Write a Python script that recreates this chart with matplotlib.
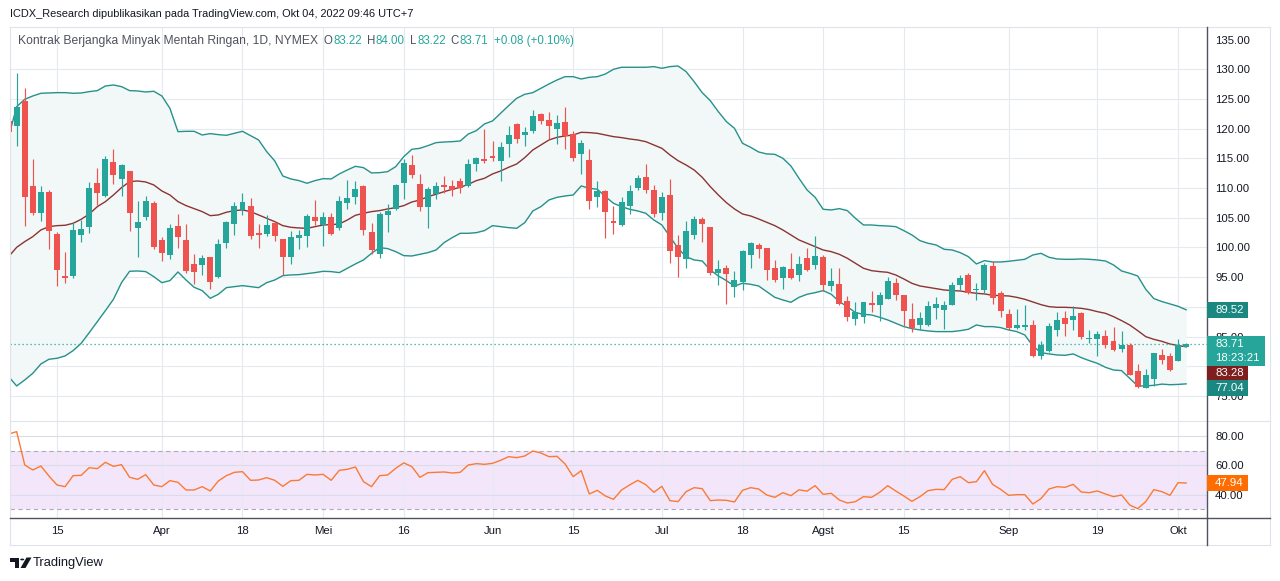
import matplotlib
matplotlib.use('Agg')
import matplotlib.pyplot as plt
import numpy as np
import pandas as pd
from matplotlib.patches import Rectangle, Polygon, Circle
from matplotlib.lines import Line2D

plt.rcParams['font.family'] = ['Liberation Sans', 'DejaVu Sans']

# ----------------------- data -----------------------
first_day = '2022-03-07'
last_day = '2022-10-04'
holidays = ['2022-04-15', '2022-05-30', '2022-06-20', '2022-07-04', '2022-09-05']

opens = [121.3, 120.5, 124.67, 110.36, 105.87, 109.35, 102.33, 95.21, 95.21, 102.16,
         103.51, 110.86, 108.67, 114.4, 111.59, 112.88, 103.34, 105.2, 107.5, 101.27,
         98.8, 103.62, 101.27, 97.23, 97.12, 98.4, 95.04, 100.82, 104.02, 106.32,
         106.99, 102.44, 102.33, 104.13, 101.44, 98.46, 101.66, 101.99, 105.14, 103.79,
         105.14, 103.34, 107.55, 108.56, 110.41, 102.61, 98.91, 105.48, 106.49, 110.86,
         113.89, 110.7, 106.82, 109.01, 110.53, 110.36, 111.2, 110.36, 114.12, 114.9,
         115.41, 114.62, 117.48, 120.8, 118.94, 119.62, 122.48, 121.47, 119.95, 121.13,
         119.11, 115.75, 114.74, 108.51, 109.52, 104.47, 103.79, 106.99, 110.02, 111.87,
         109.69, 105.81, 108.84, 100.43, 98.07, 102.16, 104.8, 103.46, 95.71, 96.55,
         93.35, 94.2, 98.74, 100.43, 99.92, 96.55, 94.87, 96.38, 95.37, 98.24,
         97.06, 98.4, 93.52, 93.86, 91.0, 87.97, 88.3, 90.66, 90.32, 91.33,
         94.03, 92.0, 87.97, 86.96, 86.96, 89.82, 89.48, 90.32, 93.69, 95.37,
         92.85, 92.85, 96.89, 92.35, 88.81, 86.45, 86.62, 86.96, 81.74, 82.58,
         86.12, 88.14, 87.8, 88.98, 84.6, 84.6, 85.1, 84.3, 82.92, 83.59,
         79.2, 76.4, 77.92, 81.9, 81.73, 80.89, 83.22]
highs = [130.5, 129.44, 126.8, 114.9, 110.36, 109.69, 102.61, 99.25, 104.3, 104.63,
         111.03, 113.39, 115.41, 116.59, 114.12, 112.95, 107.83, 108.67, 107.83, 101.77,
         103.96, 105.64, 103.96, 98.91, 98.74, 98.4, 101.44, 104.52, 107.66, 109.12,
         108.34, 103.96, 105.48, 104.47, 101.44, 102.78, 102.95, 105.7, 108.0, 105.98,
         105.81, 108.73, 111.37, 111.2, 110.53, 104.13, 105.98, 107.33, 110.7, 114.9,
         115.58, 112.38, 110.19, 111.03, 112.04, 111.37, 111.71, 114.9, 115.3, 119.95,
         117.93, 117.76, 120.46, 120.96, 120.29, 123.15, 122.65, 122.82, 122.31, 123.66,
         119.62, 118.1, 116.59, 111.2, 109.69, 106.99, 108.51, 110.53, 112.21, 114.06,
         110.53, 109.35, 111.54, 102.1, 104.47, 105.31, 105.14, 103.46, 97.9, 97.06,
         96.05, 99.58, 100.93, 100.76, 99.92, 97.9, 96.89, 99.08, 98.57, 99.92,
         101.94, 98.74, 96.55, 96.55, 91.84, 90.83, 90.83, 92.68, 92.51, 95.04,
         94.87, 92.0, 90.66, 89.15, 91.0, 91.67, 91.0, 94.2, 95.37, 95.71,
         94.03, 97.4, 97.73, 92.68, 89.65, 89.65, 90.32, 87.8, 84.26, 87.3,
         89.15, 89.31, 90.16, 89.15, 86.12, 85.95, 86.12, 86.62, 85.9, 83.93,
         80.39, 79.55, 82.3, 82.91, 82.24, 84.59, 84.0]
lows = [115.5, 117.09, 103.68, 105.5, 104.52, 99.81, 93.52, 94.08, 94.93, 100.93,
        102.5, 107.16, 108.56, 110.7, 108.67, 102.84, 98.46, 104.63, 99.81, 97.79,
        98.12, 99.98, 95.77, 93.92, 95.43, 93.07, 94.87, 99.98, 102.16, 105.48,
        101.44, 99.98, 101.99, 101.15, 95.37, 97.17, 99.81, 100.14, 103.79, 100.31,
        102.16, 103.01, 106.49, 107.33, 102.1, 98.91, 98.24, 102.61, 106.32, 108.17,
        111.71, 106.15, 103.29, 108.17, 109.18, 108.67, 109.18, 110.19, 112.88, 114.29,
        114.62, 111.2, 115.24, 117.6, 117.09, 119.28, 120.8, 118.27, 117.43, 116.59,
        114.57, 112.38, 106.49, 106.82, 101.6, 102.28, 103.62, 105.64, 109.69, 109.18,
        105.14, 104.63, 97.4, 95.04, 96.55, 101.44, 100.93, 95.37, 93.69, 90.49,
        91.67, 92.85, 96.55, 98.24, 94.53, 94.2, 93.02, 94.7, 94.42, 96.05,
        96.38, 92.68, 92.68, 90.32, 87.63, 86.96, 87.3, 89.15, 87.63, 91.33,
        91.17, 86.79, 85.78, 86.12, 86.8, 87.97, 86.34, 90.32, 92.85, 92.18,
        91.17, 92.35, 90.49, 88.3, 86.12, 86.28, 86.12, 81.57, 81.23, 82.41,
        85.11, 85.11, 86.12, 84.6, 83.93, 81.74, 83.09, 82.58, 82.38, 78.54,
        76.4, 76.4, 76.6, 80.38, 79.2, 80.89, 83.22]
closes = [119.4, 123.7, 108.56, 105.87, 109.35, 102.84, 96.27, 94.93, 102.95, 103.12,
          110.02, 109.24, 114.9, 112.21, 113.89, 105.87, 104.3, 107.83, 100.14, 99.14,
          103.34, 101.83, 96.05, 95.94, 98.24, 94.25, 100.59, 104.3, 106.99, 107.66,
          101.99, 102.16, 103.79, 101.99, 98.46, 101.77, 102.16, 105.36, 104.47, 105.14,
          102.33, 107.83, 108.34, 109.85, 102.95, 99.58, 105.64, 106.15, 110.53, 114.23,
          112.21, 106.82, 109.85, 110.36, 110.19, 109.69, 110.0, 114.06, 115.13, 114.62,
          115.13, 116.92, 118.94, 118.27, 119.45, 122.14, 121.3, 120.46, 120.96, 118.78,
          115.07, 117.6, 107.83, 109.52, 105.98, 104.13, 107.66, 109.52, 111.71, 109.69,
          105.64, 108.51, 99.42, 98.46, 102.78, 104.8, 103.96, 95.77, 96.38, 95.54,
          94.53, 99.41, 100.76, 99.75, 96.22, 94.53, 96.72, 94.87, 97.23, 96.22,
          98.57, 93.69, 94.36, 90.49, 88.3, 89.15, 90.83, 90.32, 92.0, 94.36,
          92.0, 89.31, 86.45, 88.14, 90.16, 90.49, 90.32, 93.69, 94.87, 92.35,
          93.02, 97.06, 91.5, 89.37, 86.45, 86.96, 86.96, 81.74, 83.59, 86.79,
          87.8, 87.13, 88.47, 84.94, 84.77, 85.44, 83.6, 82.75, 83.65, 78.54,
          76.58, 78.54, 82.24, 81.06, 79.37, 83.63, 83.71]

# Bollinger Bands (20, 2) as drawn on the chart
bb_upper = [118.66, 123.71, 124.95, 125.51, 125.96, 126.01, 126.07, 126.07, 125.96, 126.01,
            126.24, 126.41, 127.19, 127.36, 127.08, 126.41, 126.35, 126.18, 126.3, 125.51,
            123.43, 119.5, 119.56, 119.56, 118.94, 119.17, 119.0, 118.89, 119.22, 119.56,
            118.83, 118.1, 116.14, 114.57, 112.04, 111.54, 111.26, 110.81, 111.26, 111.59,
            111.54, 112.38, 113.05, 113.67, 113.44, 112.55, 112.6, 112.77, 113.61, 115.3,
            116.53, 116.7, 117.15, 117.65, 117.76, 117.82, 117.93, 119.11, 119.67, 120.8,
            121.3, 122.59, 123.88, 125.12, 125.79, 126.07, 126.8, 127.53, 128.2, 128.76,
            128.76, 128.37, 128.65, 128.76, 129.21, 130.0, 130.34, 130.34, 130.34, 130.34,
            130.45, 130.17, 130.45, 130.56, 129.61, 127.92, 126.07, 124.72, 122.87, 121.19,
            120.07, 117.54, 116.87, 116.08, 115.75, 115.69, 115.02, 113.72, 111.65, 109.69,
            108.45, 106.43, 106.32, 106.54, 106.21, 104.91, 103.79, 103.79, 103.68, 103.62,
            103.51, 102.84, 102.11, 101.15, 100.71, 100.43, 99.7, 99.58, 99.13, 98.46,
            97.23, 97.79, 97.56, 97.56, 97.68, 97.84, 98.01, 98.74, 99.02, 98.35,
            98.07, 98.01, 98.01, 98.07, 98.01, 97.9, 97.73, 97.06, 96.05, 95.66,
            95.21, 92.96, 91.4, 90.9, 90.5, 90.1, 89.52]
bb_basis = [98.46, 100.03, 100.99, 101.83, 102.95, 103.51, 103.68, 103.74, 104.07, 104.75,
            105.64, 106.88, 107.72, 108.84, 110.08, 111.09, 111.2, 111.03, 110.53, 109.52,
            108.84, 107.72, 107.05, 106.54, 106.04, 105.36, 105.48, 105.93, 106.21, 106.32,
            106.04, 105.48, 104.91, 104.35, 103.68, 103.4, 103.29, 103.23, 103.51, 103.79,
            103.85, 103.96, 104.63, 105.42, 105.76, 106.04, 106.21, 106.49, 106.71, 107.05,
            107.66, 108.0, 108.56, 108.96, 109.4, 109.8, 110.13, 110.64, 111.26, 111.65,
            112.38, 112.88, 113.5, 114.06, 115.13, 116.42, 117.26, 118.1, 118.55, 118.78,
            118.94, 119.39, 119.34, 119.22, 118.94, 118.66, 118.5, 118.27, 118.1, 117.82,
            117.26, 116.7, 115.58, 114.62, 113.89, 113.05, 111.82, 110.25, 108.84, 107.55,
            106.49, 105.64, 105.31, 104.8, 104.24, 103.68, 102.95, 102.11, 101.27, 100.71,
            100.14, 99.58, 99.3, 98.85, 98.18, 97.34, 96.5, 96.1, 95.94, 95.82,
            95.37, 94.7, 93.97, 93.52, 93.3, 93.07, 92.85, 92.74, 92.68, 92.46,
            92.29, 92.18, 91.95, 91.9, 91.84, 91.61, 91.28, 90.83, 90.38, 90.04,
            89.93, 89.93, 89.87, 89.76, 89.54, 89.2, 88.92, 88.36, 87.69, 86.96,
            86.0, 84.99, 84.54, 84.2, 83.75, 83.5, 83.28]
bb_lower = [78.26, 76.69, 77.7, 78.82, 80.39, 81.18, 81.35, 81.74, 82.64, 83.87,
            85.67, 87.52, 89.37, 91.28, 94.08, 95.99, 96.05, 95.94, 95.09, 94.08,
            94.42, 95.88, 94.53, 93.3, 92.74, 91.45, 92.12, 93.24, 93.41, 93.58,
            93.41, 93.24, 94.08, 94.53, 95.26, 95.38, 95.43, 95.6, 95.77, 95.99,
            95.94, 95.77, 96.5, 97.23, 97.9, 99.02, 99.98, 99.81, 99.3, 98.63,
            98.57, 98.85, 99.14, 99.58, 100.82, 101.66, 102.39, 102.39, 102.5, 102.84,
            103.68, 103.51, 103.34, 103.23, 104.19, 106.15, 106.88, 108.0, 108.45, 108.67,
            108.84, 110.36, 109.97, 109.8, 108.56, 107.44, 106.88, 106.43, 106.15, 105.76,
            104.63, 103.79, 101.83, 99.86, 98.46, 97.9, 97.73, 96.22, 95.21, 94.42,
            93.52, 93.97, 93.8, 93.52, 92.57, 91.61, 91.17, 90.77, 91.61, 92.12,
            92.4, 92.74, 92.12, 90.88, 90.04, 89.03, 88.75, 88.64, 88.25, 87.8,
            87.24, 86.68, 86.34, 86.12, 85.95, 85.84, 85.84, 85.84, 86.0, 86.23,
            86.96, 86.68, 86.68, 86.51, 86.12, 85.84, 85.27, 83.42, 82.3, 82.08,
            81.91, 81.85, 82.08, 81.46, 80.95, 80.5, 79.83, 79.38, 79.27, 77.98,
            76.69, 76.69, 76.8, 77.0, 76.9, 76.95, 77.04]

# RSI (14)
rsi = [81.4, 83.0, 60.24, 56.83, 59.56, 52.74, 46.59, 45.45, 52.96, 53.19,
       58.42, 57.74, 62.06, 59.33, 60.47, 51.83, 50.46, 53.64, 46.59, 45.45,
       49.55, 48.41, 43.18, 43.18, 45.45, 42.5, 49.32, 52.96, 55.24, 55.69,
       49.78, 50.0, 51.6, 49.78, 45.68, 49.55, 49.78, 53.87, 53.42, 53.87,
       49.78, 56.6, 57.29, 58.88, 48.87, 45.45, 52.96, 53.42, 57.97, 61.7,
       59.11, 51.83, 55.01, 55.24, 55.47, 54.78, 55.24, 60.24, 61.15, 60.7,
       61.38, 63.43, 65.93, 65.25, 66.39, 69.8, 68.43, 65.93, 66.16, 60.93,
       52.28, 56.38, 40.45, 42.95, 39.08, 36.81, 43.18, 46.59, 49.78, 46.82,
       41.59, 45.68, 35.9, 35.22, 42.04, 44.77, 44.09, 35.9, 36.35, 36.13,
       35.0, 42.95, 44.77, 43.86, 39.77, 38.17, 41.36, 39.31, 43.3, 42.4,
       46.14, 40.22, 40.9, 36.35, 34.3, 35.22, 38.63, 38.17, 41.59, 46.14,
       42.5, 39.08, 35.44, 38.63, 42.72, 43.63, 43.41, 50.46, 52.28, 48.18,
       48.87, 56.38, 47.05, 43.63, 39.54, 39.99, 39.99, 33.62, 37.26, 43.86,
       45.45, 45.0, 47.05, 41.81, 41.36, 42.5, 40.45, 38.63, 39.77, 32.94,
       30.44, 35.22, 43.41, 42.04, 39.54, 48.18, 47.94]

tick_dates = ['2022-03-15', '2022-04-01', '2022-04-18', '2022-05-02', '2022-05-16',
              '2022-06-01', '2022-06-15', '2022-07-01', '2022-07-18', '2022-08-01',
              '2022-08-15', '2022-09-01', '2022-09-19', '2022-10-03']
tick_labels = ['15', 'Apr', '18', 'Mei', '16', 'Jun', '15', 'Jul', '18', 'Agst',
               '15', 'Sep', '19', 'Okt']
price_ticks = [75, 80, 85, 90, 95, 100, 105, 110, 115, 120, 125, 130, 135]
price_hidden = [80]     # covered by the value labels on the chart
price_grid = [75, 80, 85, 90, 95, 100, 105, 110, 115, 120, 125, 130]
rsi_ticks = [40, 60, 80]
rsi_band = (30, 70)

header = 'ICDX_Research dipublikasikan pada TradingView.com, Okt 04, 2022 09:46 UTC+7'
symbol = 'Kontrak Berjangka Minyak Mentah Ringan, 1D, NYMEX'
countdown = '18:23:21'

# ----------------------- fig configuration -----------------------
W, H = 1280, 581
PLOT_L, PLOT_R = 10, 1207
PRICE_T, PRICE_B = 27, 421
RSI_T, RSI_B = 421, 518
FRAME_R, FRAME_B = 1270, 545
bar_px = 8.065          # pixels per trading day
first_tick_px = 57      # pixel position of 15 March

up_color = '#26a69a'
down_color = '#ef5350'
band_color = '#26918b'
band_label = '#1a8780'
band_fill = '#f1f8f7'
basis_color = '#8b3434'
basis_label = '#7f1e1e'
rsi_color = '#fb7a33'
rsi_label = '#ff6d00'
rsi_fill = '#f3e6fb'
rsi_dash = '#b0a8bb'
grid_color = '#e4eaf0'
frame_color = '#e0e3eb'
axis_dark = '#50535e'
text_dark = '#131722'
text_gray = '#50535e'
label_size = 8.2

price_top, price_bot = 137.12, 70.79
rsi_top, rsi_bot = 90.27, 24.06

days = pd.bdate_range(first_day, last_day)
days = days[~days.isin(pd.to_datetime(holidays))]
x = np.arange(len(closes))
tick_pos = [int(np.where(days == pd.Timestamp(d))[0][0]) for d in tick_dates]
x0 = tick_pos[0]

o, hi, lo, c = (np.array(v) for v in (opens, highs, lows, closes))
colors = np.where(c >= o, up_color, down_color)

fig = plt.figure(figsize=(W / 100, H / 100), dpi=100)
fig.patch.set_facecolor('white')


def frac_rect(left, top, right, bottom):
    return [left / W, 1 - bottom / H, (right - left) / W, (bottom - top) / H]


def fig_line(xs, ys, color, lw=0.8):
    fig.add_artist(Line2D([v / W for v in xs], [1 - v / H for v in ys],
                          transform=fig.transFigure, color=color, lw=lw, zorder=20))


def fig_box(left, top, right, bottom, color):
    fig.add_artist(Rectangle((left / W, 1 - bottom / H), (right - left) / W, (bottom - top) / H,
                             transform=fig.transFigure, facecolor=color, edgecolor='none', zorder=30))


def fig_text(px, py, s, **kw):
    return fig.text(px / W, 1 - py / H, s, va='center', ha='left', zorder=31, **kw)


ax = fig.add_axes(frac_rect(PLOT_L, PRICE_T, PLOT_R, PRICE_B))
ax_rsi = fig.add_axes(frac_rect(PLOT_L, RSI_T, PLOT_R, RSI_B), sharex=ax)

# -------- price panel --------
for p in price_grid:
    ax.axhline(p, color=grid_color, lw=0.8, zorder=0)
for t in tick_pos:
    ax.axvline(t, color=grid_color, lw=0.8, zorder=0)
    ax_rsi.axvline(t, color=grid_color, lw=0.8, zorder=1)

ax.fill_between(x, bb_lower, bb_upper, color=band_fill, lw=0, zorder=1)
ax.plot(x, bb_upper, color=band_color, lw=1.0, zorder=2)
ax.plot(x, bb_lower, color=band_color, lw=1.0, zorder=2)
ax.plot(x, bb_basis, color=basis_color, lw=1.0, zorder=2)

ax.vlines(x, lo, hi, colors=colors, lw=0.85, zorder=4)
ax.bar(x, np.maximum(np.abs(c - o), 0.15), bottom=np.minimum(o, c), width=0.74,
       color=colors, lw=0, zorder=5)

ax.axhline(closes[-1], color=up_color, lw=0.9, ls=(0, (1, 2.2)), zorder=3)

ax.set_xlim(x0 - (first_tick_px - PLOT_L) / bar_px, x0 + (PLOT_R - first_tick_px) / bar_px)
ax.set_ylim(price_bot, price_top)
ax.set_yticks(price_ticks)
ax.set_yticklabels(['' if p in price_hidden else '%.2f' % p for p in price_ticks])
ax.yaxis.tick_right()
ax.tick_params(axis='y', length=0, pad=5.8, labelsize=label_size, labelcolor=text_dark)
ax.tick_params(axis='x', bottom=False, labelbottom=False)

# -------- RSI panel --------
ax_rsi.axhspan(rsi_band[0], rsi_band[1], color=rsi_fill, lw=0, zorder=0)
for r in rsi_ticks:
    ax_rsi.axhline(r, color='#dcdbe8', lw=0.8, zorder=1)
for r in rsi_band:
    ax_rsi.axhline(r, color=rsi_dash, lw=0.8, ls=(0, (4, 3)), zorder=2)
ax_rsi.plot(x, rsi, color=rsi_color, lw=1.0, zorder=3)
ax_rsi.set_ylim(rsi_bot, rsi_top)
ax_rsi.set_yticks(rsi_ticks)
ax_rsi.set_yticklabels(['%.2f' % r for r in rsi_ticks])
ax_rsi.yaxis.tick_right()
ax_rsi.tick_params(axis='y', length=0, pad=5.8, labelsize=label_size, labelcolor=text_dark)
ax_rsi.set_xticks(tick_pos)
ax_rsi.set_xticklabels(tick_labels)
ax_rsi.tick_params(axis='x', length=0, pad=6.0, labelsize=label_size, labelcolor=text_dark)

for a in (ax, ax_rsi):
    for s in a.spines.values():
        s.set_visible(False)
    a.set_facecolor('none')

# -------- frame lines --------
fig_line([PLOT_L, FRAME_R], [PRICE_T, PRICE_T], frame_color)
fig_line([PLOT_L, PLOT_L], [PRICE_T, FRAME_B], frame_color)
fig_line([FRAME_R, FRAME_R], [PRICE_T, FRAME_B], frame_color)
fig_line([PLOT_L, FRAME_R], [FRAME_B, FRAME_B], frame_color)
fig_line([PLOT_L, FRAME_R], [RSI_T, RSI_T], frame_color)
fig_line([PLOT_R, PLOT_R], [PRICE_T, FRAME_B], axis_dark, lw=1.0)
fig_line([PLOT_L, FRAME_R], [RSI_B, RSI_B], axis_dark, lw=1.0)


# -------- right-axis value labels --------
def price_px(p):
    return PRICE_T + (price_top - p) / (price_top - price_bot) * (PRICE_B - PRICE_T)


def rsi_px(r):
    return RSI_T + (rsi_top - r) / (rsi_top - rsi_bot) * (RSI_B - RSI_T)


cy = price_px(bb_upper[-1])
fig_box(PLOT_R, cy - 8, 1248, cy + 8, band_label)
fig_text(1215, cy, '%.2f' % bb_upper[-1], color='white', fontsize=label_size)

top = price_px(closes[-1]) - 8
fig_box(PLOT_R, top, 1265, top + 30, up_color)
fig_text(1215, top + 8, '%.2f' % closes[-1], color='white', fontsize=label_size)
fig_text(1215, top + 22, countdown, color='white', fontsize=label_size)
top += 30

fig_box(PLOT_R, top, 1248, top + 14, basis_label)
fig_text(1215, top + 7, '%.2f' % bb_basis[-1], color='white', fontsize=label_size)
top += 14

fig_box(PLOT_R, top, 1248, top + 16, band_label)
fig_text(1215, top + 8, '%.2f' % bb_lower[-1], color='white', fontsize=label_size)

cy = rsi_px(rsi[-1])
fig_box(PLOT_R, cy - 8, 1248, cy + 8, rsi_label)
fig_text(1215, cy, '%.2f' % rsi[-1], color='white', fontsize=label_size)

# -------- header and legend --------
fig_text(10, 14, header, color=text_dark, fontsize=7.9)

renderer = fig.canvas.get_renderer()
change = closes[-1] - closes[-2]
pct = change / closes[-2] * 100
pieces = [(symbol, text_gray, 8.7, 5),
          ('O', text_gray, 8.3, 1), ('%.2f' % opens[-1], up_color, 8.3, 5),
          ('H', text_gray, 8.3, 1), ('%.2f' % highs[-1], up_color, 8.3, 5),
          ('L', text_gray, 8.3, 0.5), ('%.2f' % lows[-1], up_color, 8.3, 5),
          ('C', text_gray, 8.3, 1), ('%.2f' % closes[-1], up_color, 8.3, 5),
          ('%+.2f (%+.2f%%)' % (change, pct), up_color, 8.3, 0)]
px = 18
for s, col, size, gap in pieces:
    t = fig_text(px, 41, s, color=col, fontsize=size)
    px += t.get_window_extent(renderer).width + gap

# -------- TradingView mark --------
logo = '#131722'
fig.add_artist(Polygon([(10 / W, 1 - 557.5 / H), (19 / W, 1 - 557.5 / H), (19 / W, 1 - 568 / H),
                        (15 / W, 1 - 568 / H), (15 / W, 1 - 561.5 / H), (10 / W, 1 - 561.5 / H)],
                       closed=True, transform=fig.transFigure, fc=logo, ec='none'))
fig.add_artist(Circle((22.2 / W, 1 - 559.5 / H), 2.0 / W, transform=fig.transFigure, fc=logo, ec='none'))
fig.add_artist(Polygon([(20.5 / W, 1 - 568 / H), (25.5 / W, 1 - 568 / H), (31.5 / W, 1 - 557.5 / H),
                        (26.5 / W, 1 - 557.5 / H)],
                       closed=True, transform=fig.transFigure, fc=logo, ec='none'))
fig_text(33, 563, 'TradingView', color=text_dark, fontsize=9.3)

plt.savefig('out.png', dpi=100)
